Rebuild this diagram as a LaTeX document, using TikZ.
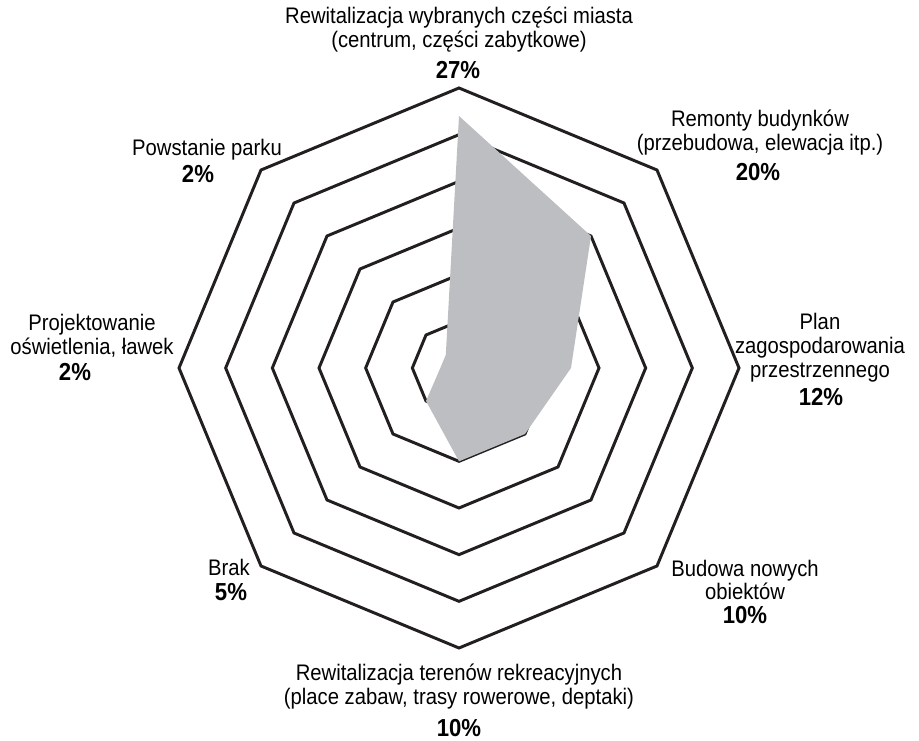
\documentclass[tikz,border=0pt]{standalone}
\usepackage{fontspec}
\setmainfont{Liberation Sans}[FakeStretch=0.9]

\definecolor{ringline}{RGB}{35,31,32}
\definecolor{areagrey}{RGB}{189,190,193}

\begin{document}
\begin{tikzpicture}[x=0.025cm,y=0.025cm,
    ring/.style={draw=ringline,line width=2.1pt},
    area/.style={fill=areagrey},
    lbl/.style={align=center,inner sep=0pt,font=\fontsize{16}{17}\selectfont},
    pct/.style={inner sep=0pt,font=\fontsize{17.5}{18}\selectfont\bfseries}]

    \useasboundingbox (-459,-373) rectangle (460,368);

    % six rings, 5% each (outer = 30%)
    \foreach \k [evaluate=\k as \r using \k*280/6] in {1,...,6}
        \draw[ring] (90:\r) -- (45:\r) -- (0:\r) -- (-45:\r) -- (-90:\r)
            -- (-135:\r) -- (180:\r) -- (135:\r) -- cycle;

    % data points
    \coordinate (v1) at (90:27*28/3);
    \coordinate (v2) at (45:20*28/3);
    \coordinate (v3) at (0:12*28/3);
    \coordinate (v4) at (-45:10*28/3);
    \coordinate (v5) at (-90:10*28/3);
    \coordinate (v6) at (-135:5*28/3);
    \coordinate (v7) at (180:2*28/3);
    \coordinate (v8) at (135:2*28/3);
    \fill[area] (v1) -- (v2) -- (v3) -- (v4) -- (v5) -- (v6) -- (v7) -- (v8) -- cycle;

    % labels
    \node[lbl] (rewit) at (0,338) {Rewitalizacja wybranych części miasta\\(centrum, części zabytkowe)};
    \node[pct] (rewitP) at (-1,298) {27\%};

    \node[lbl] (remonty) at (301,235) {Remonty budynków\\(przebudowa, elewacja itp.)};
    \node[pct] (remontyP) at (299,196) {20\%};

    \node[lbl] (plan) at (361,20) {Plan\\zagospodarowania\\przestrzennego};
    \node[pct] (planP) at (362,-29) {12\%};

    \node[lbl] (budowa) at (286,-212) {Budowa nowych\\obiektów};
    \node[pct] (budowaP) at (286,-247) {10\%};

    \node[lbl] (rekreacja) at (0,-319) {Rewitalizacja terenów rekreacyjnych\\(place zabaw, trasy rowerowe, deptaki)};
    \node[pct] (rekreacjaP) at (0,-360) {10\%};

    \node[lbl] (brak) at (-230,-199) {Brak};
    \node[pct] (brakP) at (-228,-224) {5\%};

    \node[lbl] (projekt) at (-367,32) {Projektowanie\\oświetlenia, ławek};
    \node[pct] (projektP) at (-384,-4) {2\%};

    \node[lbl] (park) at (-252,218) {Powstanie parku};
    \node[pct] (parkP) at (-261,194) {2\%};
\end{tikzpicture}
\end{document}
